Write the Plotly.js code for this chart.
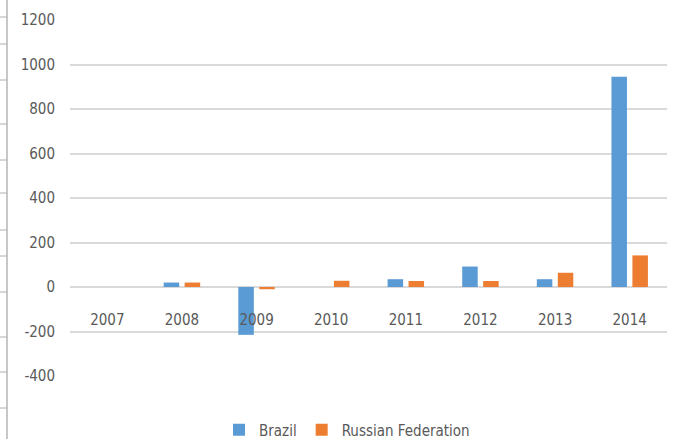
<!DOCTYPE html>
<html>
<head>
<meta charset="utf-8">
<script src="https://cdn.plot.ly/plotly-3.0.1.min.js"></script>
<style>html,body{margin:0;padding:0;background:#fff;}#chart{width:680px;height:439px;}</style>
</head>
<body>
<div id="chart"></div>
<script>
var years = ['2007', '2008', '2009', '2010', '2011', '2012', '2013', '2014'];
var brazil = [0, 20, -215, 0, 35, 92, 35, 945];
var russia = [0, 20, -10, 28, 27, 27, 64, 142];
var yTicks = [-400, -200, 0, 200, 400, 600, 800, 1000, 1200];

var W = 680, H = 439, L = 70, R = 13, T = 20, B = 63;
var pw = W - L - R, ph = H - T - B;
function px(x) { return (x - L) / pw; }
function py(y) { return (H - B - y) / ph; }

var FONT = '"DejaVu Sans Condensed", "Liberation Sans Narrow", sans-serif';
var TXT = '#595959';

var shapes = [];
shapes.push({type: 'line', xref: 'paper', yref: 'paper', x0: px(7), x1: px(7), y0: py(0), y1: py(439),
  line: {color: '#c8c8c8', width: 2}});
var leftTicks = [17, 44, 80, 124, 160, 193, 230, 256, 292, 337, 372, 408];
leftTicks.forEach(function (t) {
  shapes.push({type: 'line', xref: 'paper', yref: 'paper', x0: px(0), x1: px(7), y0: py(t), y1: py(t),
    line: {color: '#b0b0b0', width: 1}});
});

var data = [
  {type: 'bar', name: 'Brazil', x: years, y: brazil, marker: {color: '#5B9BD5'}},
  {type: 'bar', name: 'Russian Federation', x: years, y: russia, marker: {color: '#ED7D31'}}
];

var layout = {
  width: W, height: H,
  margin: {l: L, r: R, t: T, b: B, pad: 0, autoexpand: false},
  paper_bgcolor: '#fff', plot_bgcolor: '#fff',
  barmode: 'group', bargap: 0.438, bargroupgap: 0.26,
  font: {family: FONT, color: TXT, size: 15},
  showlegend: true,
  legend: {orientation: 'h', xref: 'container', yref: 'container', x: 347 / W, xanchor: 'center',
    y: (H - 430) / H, yanchor: 'middle',
    font: {family: FONT, size: 15, color: TXT}, itemwidth: 30, tracegroupgap: 0},
  xaxis: {type: 'category', anchor: 'free', position: py(287), showgrid: false, showline: false, zeroline: false,
    ticks: 'outside', ticklen: 19, tickcolor: 'rgba(0,0,0,0)', tickfont: {family: FONT, size: 15, color: TXT}},
  yaxis: {range: [-400, 1200], tickvals: yTicks, ticktext: yTicks.map(String), showgrid: true, gridcolor: '#d9d9d9', gridwidth: 2,
    zeroline: true, zerolinecolor: '#d9d9d9', zerolinewidth: 2, showline: false,
    ticks: 'outside', ticklen: 11, tickcolor: 'rgba(0,0,0,0)', tickfont: {family: FONT, size: 15, color: TXT}},
  shapes: shapes
};

Plotly.newPlot('chart', data, layout, {displayModeBar: false, staticPlot: true});
</script>
</body>
</html>
